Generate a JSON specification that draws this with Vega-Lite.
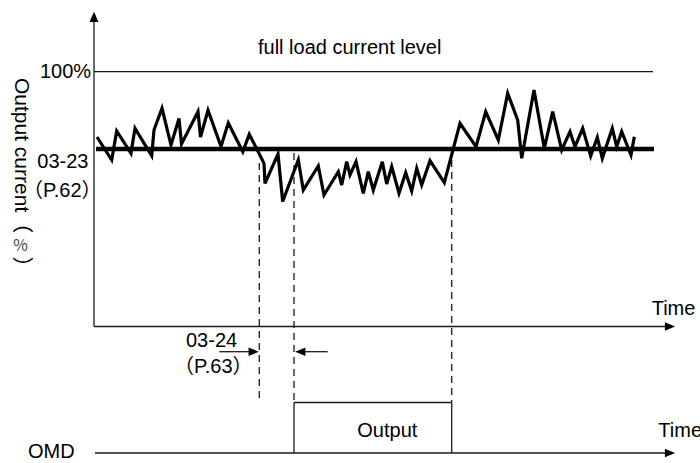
{
  "$schema": "https://vega.github.io/schema/vega-lite/v6.json",
  "width": 700,
  "height": 463,
  "autosize": {"type": "none"},
  "padding": 0,
  "background": "white",
  "config": {
    "view": {"stroke": null},
    "text": {"font": "Liberation Sans, Arial, Noto Sans CJK SC", "fontSize": 20, "color": "#000"}
  },
  "datasets": {
    "wave": [
      {"t": 3, "v": 74.37}, {"t": 17.7, "v": 65.35}, {"t": 22.7, "v": 76.73}, {"t": 37, "v": 67.97},
      {"t": 41, "v": 77.79}, {"t": 57.7, "v": 67.03}, {"t": 60, "v": 77.12}, {"t": 68, "v": 85.64},
      {"t": 77, "v": 71.23}, {"t": 85, "v": 81.63}, {"t": 87.5, "v": 71.62}, {"t": 104, "v": 84.3},
      {"t": 106.5, "v": 74.37}, {"t": 114, "v": 84.85}, {"t": 127, "v": 70.64}, {"t": 134.3, "v": 79.87},
      {"t": 148.8, "v": 68.6}, {"t": 155.3, "v": 75.47}, {"t": 170, "v": 64.05}, {"t": 171, "v": 56.2},
      {"t": 184, "v": 67.7}, {"t": 188.7, "v": 49.06}, {"t": 204.3, "v": 65.35}, {"t": 209.3, "v": 53.57},
      {"t": 224.3, "v": 62.99}, {"t": 230, "v": 51.61}, {"t": 244.3, "v": 60.75}, {"t": 247.7, "v": 55.53},
      {"t": 252.7, "v": 64.68}, {"t": 256, "v": 59.46}, {"t": 262, "v": 64.68}, {"t": 269.3, "v": 52.28},
      {"t": 274.3, "v": 60.75}, {"t": 279.3, "v": 53.57}, {"t": 288.3, "v": 64.68}, {"t": 292.7, "v": 55.93},
      {"t": 297.7, "v": 62.72}, {"t": 305, "v": 52.28}, {"t": 311.7, "v": 60.36}, {"t": 317.7, "v": 53.18},
      {"t": 322.7, "v": 62.09}, {"t": 327.7, "v": 55.53}, {"t": 336, "v": 65.07}, {"t": 350.3, "v": 56.44},
      {"t": 366, "v": 79.75}, {"t": 382, "v": 70.57}, {"t": 391.7, "v": 84.3}, {"t": 404.3, "v": 73.19},
      {"t": 413.7, "v": 91.52}, {"t": 423.7, "v": 81.04}, {"t": 427.7, "v": 66.01}, {"t": 440, "v": 92.82},
      {"t": 450.3, "v": 69.94}, {"t": 458.7, "v": 84.3}, {"t": 467.7, "v": 69.27}, {"t": 476, "v": 76.45},
      {"t": 481, "v": 70.57}, {"t": 488.7, "v": 77.79}, {"t": 496.7, "v": 66.92}, {"t": 503.3, "v": 74.25},
      {"t": 508.3, "v": 66.01}, {"t": 518.3, "v": 77.79}, {"t": 522.7, "v": 70.57}, {"t": 527.7, "v": 76.45},
      {"t": 537, "v": 67.31}, {"t": 540.3, "v": 74.49}
    ],
    "thin": [
      {"t": 0, "v": 0, "t2": 0, "v2": 120},
      {"t": 0, "v": 0, "t2": 572, "v2": 0},
      {"t": 0, "v": 100, "t2": 559, "v2": 100},
      {"t": 1, "v": -49.65, "t2": 572, "v2": -49.65},
      {"t": 200, "v": -49.65, "t2": 200, "v2": -29.83},
      {"t": 200, "v": -29.83, "t2": 357.7, "v2": -29.83},
      {"t": 357.7, "v": -49.65, "t2": 357.7, "v2": -29.83},
      {"t": 125.3, "v": -9.89, "t2": 156, "v2": -9.89},
      {"t": 210, "v": -9.89, "t2": 233.7, "v2": -9.89}
    ],
    "thick": [
      {"t": 2, "v": 69.66, "t2": 560, "v2": 69.66}
    ],
    "dashed": [
      {"t": 165.3, "v": 64.17, "t2": 165.3, "v2": -30.02},
      {"t": 200, "v": 68.09, "t2": 200, "v2": -29.83},
      {"t": 357.7, "v": 65.35, "t2": 357.7, "v2": -29.83}
    ],
    "heads": [
      {"t": 0, "v": 121.55, "dir": "up"},
      {"t": 576, "v": 0, "dir": "right"},
      {"t": 576, "v": -49.65, "dir": "right"},
      {"t": 159.7, "v": -9.89, "dir": "right"},
      {"t": 206.3, "v": -9.89, "dir": "left"}
    ],
    "labels": [
      {"t": 164, "v": 106.95, "label": "full load current level"},
      {"t": -54, "v": 97.65, "label": "100%"},
      {"t": -56.7, "v": 62.09, "label": "03-23"},
      {"t": -71, "v": 50.94, "label": "（P.62）"},
      {"t": 92, "v": -8.16, "label": "03-24"},
      {"t": 80, "v": -18.37, "label": "（P.63）"},
      {"t": 557.7, "v": 4.51, "label": "Time"},
      {"t": 564.3, "v": -43.25, "label": "Time"},
      {"t": -66, "v": -51.73, "label": "OMD"},
      {"t": 263.3, "v": -43.25, "label": "Output"}
    ],
    "vlabel": [
      {"t": -79.5, "v": 97.53, "label": "Output current（"},
      {"t": -79.5, "v": 27.5, "label": "）"}
    ],
    "pct": [
      {"t": -73.5, "v": 31.4, "label": "％"}
    ]
  },
  "encoding": {
    "x": {"field": "t", "type": "quantitative", "scale": {"domain": [-94, 606], "nice": false, "zero": false}, "axis": null},
    "y": {"field": "v", "type": "quantitative", "scale": {"domain": [-53.57, 128.14], "nice": false, "zero": false}, "axis": null}
  },
  "layer": [
    {
      "data": {"name": "thin"},
      "mark": {"type": "rule", "color": "#1a1a1a", "strokeWidth": 1.3},
      "encoding": {"x2": {"field": "t2"}, "y2": {"field": "v2"}}
    },
    {
      "data": {"name": "dashed"},
      "mark": {"type": "rule", "color": "#1a1a1a", "strokeWidth": 1.3, "strokeDash": [7, 5]},
      "encoding": {"x2": {"field": "t2"}, "y2": {"field": "v2"}}
    },
    {
      "data": {"name": "thick"},
      "mark": {"type": "rule", "color": "#000", "strokeWidth": 4.5},
      "encoding": {"x2": {"field": "t2"}, "y2": {"field": "v2"}}
    },
    {
      "data": {"name": "wave"},
      "mark": {"type": "line", "color": "#000", "strokeWidth": 3.2, "strokeJoin": "miter", "strokeMiterLimit": 4},
      "encoding": {}
    },
    {
      "data": {"name": "heads"},
      "mark": {"type": "point", "filled": true, "size": 105, "opacity": 1, "color": "#000", "strokeWidth": 0},
      "encoding": {
        "shape": {
          "field": "dir", "type": "nominal", "legend": null,
          "scale": {"domain": ["up", "right", "left"], "range": ["M0,-1L0.87,1L-0.87,1Z", "M1,0L-1,-0.84L-1,0.84Z", "M-1,0L1,-0.84L1,0.84Z"]}
        }
      }
    },
    {
      "data": {"name": "labels"},
      "mark": {"type": "text", "align": "left", "baseline": "alphabetic"},
      "encoding": {"text": {"field": "label"}}
    },
    {
      "data": {"name": "vlabel"},
      "mark": {"type": "text", "align": "left", "baseline": "alphabetic", "angle": 90, "fontSize": 21},
      "encoding": {"text": {"field": "label"}}
    },
    {
      "data": {"name": "pct"},
      "mark": {"type": "text", "align": "center", "baseline": "middle", "fontSize": 16, "color": "#444", "font": "Noto Sans CJK SC"},
      "encoding": {"text": {"field": "label"}}
    }
  ]
}
